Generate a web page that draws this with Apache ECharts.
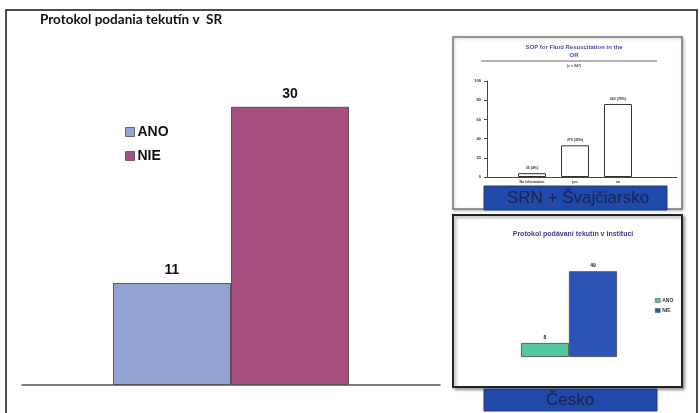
<!DOCTYPE html>
<html>
<head>
<meta charset="utf-8">
<script src="https://cdn.jsdelivr.net/npm/echarts@6/dist/echarts.min.js"></script>
<style>
  html, body { margin: 0; padding: 0; background: #fff; }
  #chart { width: 700px; height: 413px; }
</style>
</head>
<body>
<div id="chart"></div>
<script>
// Slovakia: fluid administration protocol (main chart)
const skCategories = ['SR'];
const skAno = [11];
const skNie = [30];

// Germany + Switzerland: SOP for fluid resuscitation in the OR (inset)
const sopCategories = ['No information', 'yes', 'no'];
const sopValues = [4, 33, 76];
const sopLabels = ['35 (4%)', '279 (33%)', '643 (76%)'];
const sopTicks = [0, 20, 40, 60, 80, 100];

// Czech Republic: institutional protocol (inset)
const czCategories = ['CZ'];
const czAno = [8];
const czNie = [49];

const colAno = '#93a4d4';
const colNie = '#a84d7f';
const colCzAno = '#52c7a0';
const colCzNie = '#2b55b6';
const bannerBlue = '#2149a9';

const chart = echarts.init(document.getElementById('chart'), null, { renderer: 'canvas' });

const option = {
  animation: false,
  backgroundColor: '#ffffff',
  title: [
    {
      text: 'Protokol podania tekutín v  SR',
      left: 35, top: 8,
      textStyle: { fontFamily: 'Lato', fontWeight: 'bold', fontSize: 13.5, color: '#111' }
    },
    {
      text: 'SOP for Fluid Resuscitation in the\nOR',
      left: 569, top: 38, textAlign: 'center',
      textStyle: { fontFamily: 'Liberation Sans', fontWeight: 'bold', fontSize: 6, lineHeight: 8, color: '#4152a6' }
    },
    {
      text: '(n = 847)',
      left: 569, top: 59, textAlign: 'center',
      textStyle: { fontFamily: 'Liberation Sans', fontSize: 3.5, color: '#555' }
    },
    {
      text: 'Protokol podávaní tekutín v instituci',
      left: 568, top: 226, textAlign: 'center',
      textStyle: { fontFamily: 'Liberation Sans', fontWeight: 'bold', fontSize: 7, color: '#3c3c8c' }
    }
  ],
  legend: [
    {
      data: ['ANO', 'NIE'],
      orient: 'vertical',
      left: 120, top: 120,
      itemWidth: 9, itemHeight: 9, itemGap: 10,
      icon: 'rect',
      textStyle: { fontFamily: 'Liberation Sans', fontWeight: 'bold', fontSize: 14, color: '#111', padding: [0, 0, 0, -2] },
      itemStyle: { borderColor: '#666', borderWidth: 1 }
    },
    {
      data: ['ANO (CZ)', 'NIE (CZ)'],
      orient: 'vertical',
      left: 650, top: 293,
      itemWidth: 5, itemHeight: 4, itemGap: 5,
      icon: 'rect',
      formatter: function (n) { return n.split(' ')[0]; },
      textStyle: { fontFamily: 'Liberation Sans', fontWeight: 'bold', fontSize: 5, color: '#333', padding: [0, 0, 0, -3] },
      itemStyle: { borderColor: '#444', borderWidth: 0.5 }
    }
  ],
  grid: [
    { left: 22, width: 418, top: 14, height: 371 },
    { left: 487, width: 190, top: 81, height: 96 },
    { left: 510.5, width: 129, top: 81, height: 96 },
    { left: 500, width: 138, top: 252, height: 105 }
  ],
  xAxis: [
    {
      gridIndex: 0, type: 'category', data: skCategories,
      axisLine: { lineStyle: { color: '#555', width: 1.5 } },
      axisTick: { show: false }, axisLabel: { show: false }
    },
    {
      gridIndex: 1, type: 'value', min: 0, max: 1,
      axisLine: { show: true, onZero: false, lineStyle: { color: '#444', width: 1 } },
      axisTick: { show: false }, axisLabel: { show: false }, splitLine: { show: false }
    },
    {
      gridIndex: 2, type: 'category', data: sopCategories,
      axisLine: { show: false }, axisTick: { show: false },
      axisLabel: { fontFamily: 'Liberation Sans', fontWeight: 'bold', fontSize: 3.5, color: '#333', margin: 3 }
    },
    {
      gridIndex: 3, type: 'category', data: czCategories,
      axisLine: { show: false }, axisTick: { show: false }, axisLabel: { show: false }
    }
  ],
  yAxis: [
    { gridIndex: 0, type: 'value', min: 0, max: 40, show: false },
    {
      gridIndex: 1, type: 'value', min: 0, max: 100, interval: 20,
      axisLine: { show: true, lineStyle: { color: '#444', width: 1 } },
      axisTick: { show: true, length: 3, lineStyle: { color: '#444' } },
      axisLabel: {
        fontFamily: 'Liberation Sans', fontWeight: 'bold', fontSize: 4, color: '#333', margin: 6,
        formatter: function (v) { return sopTicks.indexOf(v) >= 0 ? String(v) : ''; }
      },
      splitLine: { show: false }
    },
    { gridIndex: 2, type: 'value', min: 0, max: 100, show: false },
    { gridIndex: 3, type: 'value', min: 0, max: 60, show: false }
  ],
  series: [
    {
      name: 'ANO', type: 'bar', xAxisIndex: 0, yAxisIndex: 0, data: skAno,
      barWidth: 118, barGap: '0%',
      itemStyle: { color: colAno, borderColor: '#555', borderWidth: 1 },
      label: { show: true, position: 'top', distance: 6, fontFamily: 'Liberation Sans', fontWeight: 'bold', fontSize: 14, color: '#111' }
    },
    {
      name: 'NIE', type: 'bar', xAxisIndex: 0, yAxisIndex: 0, data: skNie,
      barWidth: 118, barGap: '0%',
      itemStyle: { color: colNie, borderColor: '#555', borderWidth: 1 },
      label: { show: true, position: 'top', distance: 6, fontFamily: 'Liberation Sans', fontWeight: 'bold', fontSize: 14, color: '#111' }
    },
    {
      name: 'SOP', type: 'bar', xAxisIndex: 2, yAxisIndex: 2, data: sopValues,
      barWidth: 28,
      itemStyle: { color: '#ffffff', borderColor: '#333', borderWidth: 1 },
      label: {
        show: true, position: 'top', distance: 3,
        fontFamily: 'Liberation Sans', fontWeight: 'bold', fontSize: 3.5, color: '#333',
        formatter: function (p) { return sopLabels[p.dataIndex]; }
      }
    },
    {
      name: 'ANO (CZ)', type: 'bar', xAxisIndex: 3, yAxisIndex: 3, data: czAno,
      barWidth: 48, barGap: '0%',
      itemStyle: { color: colCzAno, borderColor: '#444', borderWidth: 0.8 },
      label: { show: true, position: 'top', distance: 3, fontFamily: 'Liberation Sans', fontWeight: 'bold', fontSize: 5, color: '#222' }
    },
    {
      name: 'NIE (CZ)', type: 'bar', xAxisIndex: 3, yAxisIndex: 3, data: czNie,
      barWidth: 48, barGap: '0%',
      itemStyle: { color: colCzNie, borderColor: '#444', borderWidth: 0.8 },
      label: { show: true, position: 'top', distance: 3, fontFamily: 'Liberation Sans', fontWeight: 'bold', fontSize: 5, color: '#222' }
    }
  ],
  graphic: [
    // outer slide frame
    {
      type: 'rect', z: 0,
      shape: { x: 6, y: 10, width: 691, height: 420 },
      style: { fill: 'none', stroke: '#111', lineWidth: 1.5 }
    },
    // Germany + Switzerland panel
    {
      type: 'rect', z: 0,
      shape: { x: 453, y: 37, width: 229, height: 172 },
      style: { fill: '#fff', stroke: '#777', lineWidth: 1.5, shadowBlur: 3, shadowOffsetX: 1, shadowOffsetY: 1, shadowColor: 'rgba(0,0,0,0.25)' }
    },
    {
      type: 'line', z: 5,
      shape: { x1: 481, y1: 61, x2: 657, y2: 61 },
      style: { stroke: '#666', lineWidth: 1 }
    },
    {
      type: 'rect', z: 50,
      shape: { x: 484, y: 186, width: 183, height: 24 },
      style: { fill: bannerBlue, stroke: '#1a3a8a', lineWidth: 1 }
    },
    {
      type: 'text', z: 51, x: 578, y: 198,
      style: {
        text: 'SRN + Švajčiarsko', fill: '#1b2452',
        font: '17px "Liberation Sans", Arial, sans-serif',
        align: 'center', verticalAlign: 'middle'
      }
    },
    // Czech panel
    {
      type: 'rect', z: 0,
      shape: { x: 453, y: 215, width: 229, height: 172 },
      style: { fill: '#fff', stroke: '#222', lineWidth: 2, shadowBlur: 3, shadowOffsetX: 2, shadowOffsetY: 2, shadowColor: 'rgba(0,0,0,0.35)' }
    },
    {
      type: 'rect', z: 50,
      shape: { x: 484, y: 389, width: 173, height: 22 },
      style: { fill: bannerBlue, stroke: '#1a3a8a', lineWidth: 1 }
    },
    {
      type: 'text', z: 51, x: 570, y: 400,
      style: {
        text: 'Česko', fill: '#1b2452',
        font: '17px "Liberation Sans", Arial, sans-serif',
        align: 'center', verticalAlign: 'middle'
      }
    }
  ]
};

chart.setOption(option);
</script>
</body>
</html>
